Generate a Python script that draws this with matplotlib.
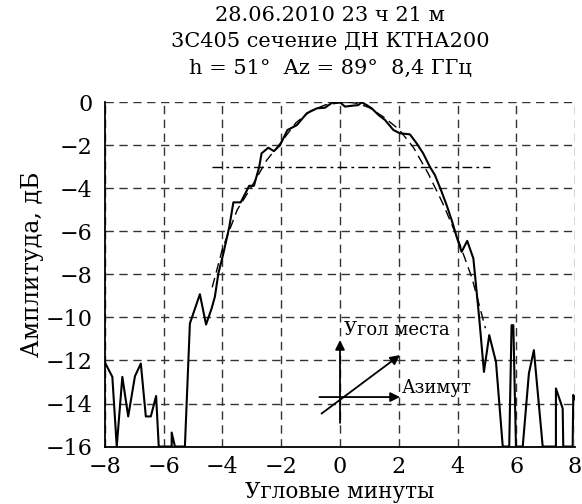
import matplotlib
matplotlib.use("Agg")
import matplotlib.pyplot as plt
import numpy as np

plt.rcParams['font.family'] = ['DejaVu Serif']

# measured cut of the beam (solid line)
meas_x = [-8.0, -7.75, -7.6, -7.41, -7.21, -6.98, -6.78, -6.61, -6.44, -6.26, -6.17,
          -5.73, -5.73, -5.62, -5.28, -5.11, -4.77, -4.56, -4.37, -4.26, -4.14, -3.97,
          -3.77, -3.63, -3.38, -3.09, -2.93, -2.75, -2.67, -2.44, -2.25, -2.04, -1.79,
          -1.47, -1.13, -0.79, -0.51, -0.25, 0.0, 0.17, 0.40, 0.62, 0.74, 0.91, 1.08,
          1.31, 1.53, 1.82, 2.04, 2.38, 2.61, 2.83, 3.06, 3.23, 3.46, 3.63, 3.80, 3.97,
          4.14, 4.33, 4.54, 4.74, 4.90, 5.08, 5.31, 5.54, 5.76, 5.84, 5.90, 5.99, 6.22,
          6.43, 6.60, 6.90, 7.35, 7.35, 7.58, 7.60, 7.92, 7.94, 8.0]
meas_y = [-12.1, -12.76, -16, -12.76, -14.6, -12.73, -12.14, -14.6, -14.6, -13.65, -16,
          -16, -15.35, -16, -16, -10.28, -8.92, -10.33, -9.58, -9.04, -7.95, -7.02,
          -5.8, -4.65, -4.65, -3.88, -3.88, -3.0, -2.37, -2.11, -2.27, -1.99, -1.29,
          -1.06, -0.51, -0.28, -0.25, 0.0, 0.0, -0.2, -0.16, -0.13, 0.0, -0.13, -0.28,
          -0.59, -0.82, -1.29, -1.44, -1.49, -1.91, -2.37, -3.0, -3.38, -4.16, -4.78, -5.47, -6.25,
          -6.95, -6.44, -7.26, -10.05, -12.53, -10.82, -12.07, -16, -16, -10.36, -10.36, -16, -16,
          -12.6, -11.52, -16, -16, -13.3, -14.23, -16, -16, -13.6, -13.8]

# calculated pattern (dashed line)
calc_x = [-4.35, -4.0, -3.5, -3.0, -2.5, -2.0, -1.5, -1.0, -0.5, 0.0, 0.3, 0.6,
          1.0, 1.5, 2.0, 2.5, 3.0, 3.5, 4.0, 4.5, 4.95]
calc_y = [-8.6, -6.8, -5.0, -3.9, -2.7, -1.85, -0.95, -0.4, -0.12, -0.02, 0.0, -0.05,
          -0.25, -0.7, -1.25, -2.1, -3.3, -4.7, -6.3, -8.2, -10.5]

level_x = [-4.37, 5.11]
level_y = [-3, -3]

xticks = [-8, -6, -4, -2, 0, 2, 4, 6, 8]
yticks = [0, -2, -4, -6, -8, -10, -12, -14, -16]

fig = plt.figure(figsize=(5.82, 5.04), dpi=100)
ax = fig.add_axes([0.1804, 0.114, 0.8076, 0.683])

ax.plot(meas_x, meas_y, color="black", lw=1.5)
ax.plot(calc_x, calc_y, color="black", lw=1.0, linestyle=(0, (7, 4)))
ax.plot(level_x, level_y, color="black", lw=1.0, linestyle=(0, (7, 3, 2, 3)))

ax.set_xlim(-8, 8)
ax.set_ylim(-16, 0)
ax.set_xticks(xticks)
ax.set_yticks(yticks)
ax.tick_params(length=0, labelsize=16)
ax.tick_params(axis="x", pad=7)
ax.tick_params(axis="y", pad=9)
ax.grid(True, color="#333333", linestyle=(0, (6, 4)), lw=1.0)
for s in ["top", "right"]:
    ax.spines[s].set_visible(False)
for s in ["left", "bottom"]:
    ax.spines[s].set_linewidth(1.3)

ax.set_xlabel("Угловые минуты", fontsize=15.5)
ax.xaxis.set_label_coords(0.5, -0.1)
ax.set_ylabel("Амплитуда, дБ", fontsize=17)
ax.yaxis.set_label_coords(-0.13, 0.53)

# direction arrows
arr = dict(arrowstyle="-|>", color="black", lw=1.3, mutation_scale=14, shrinkA=0, shrinkB=0)
ax.annotate("", xy=(0, -11.05), xytext=(0, -14.9), arrowprops=arr)
ax.annotate("", xy=(2.04, -11.75), xytext=(-0.63, -14.47), arrowprops=arr)
ax.annotate("", xy=(2.04, -13.7), xytext=(-0.7, -13.7), arrowprops=arr)
ax.text(0.15, -10.6, "Угол места", fontsize=13, va="center", ha="left")
ax.text(2.1, -13.3, "Азимут", fontsize=13, va="center", ha="left")

fig.text(0.567, 0.97, "28.06.2010 23 ч 21 м", fontsize=15, ha="center", va="center")
fig.text(0.567, 0.917, "3C405 сечение ДН КТНА200", fontsize=15, ha="center", va="center")
fig.text(0.567, 0.864, "h = 51°  Az = 89°  8,4 ГГц", fontsize=15, ha="center", va="center")

fig.savefig("out.png", dpi=100)
